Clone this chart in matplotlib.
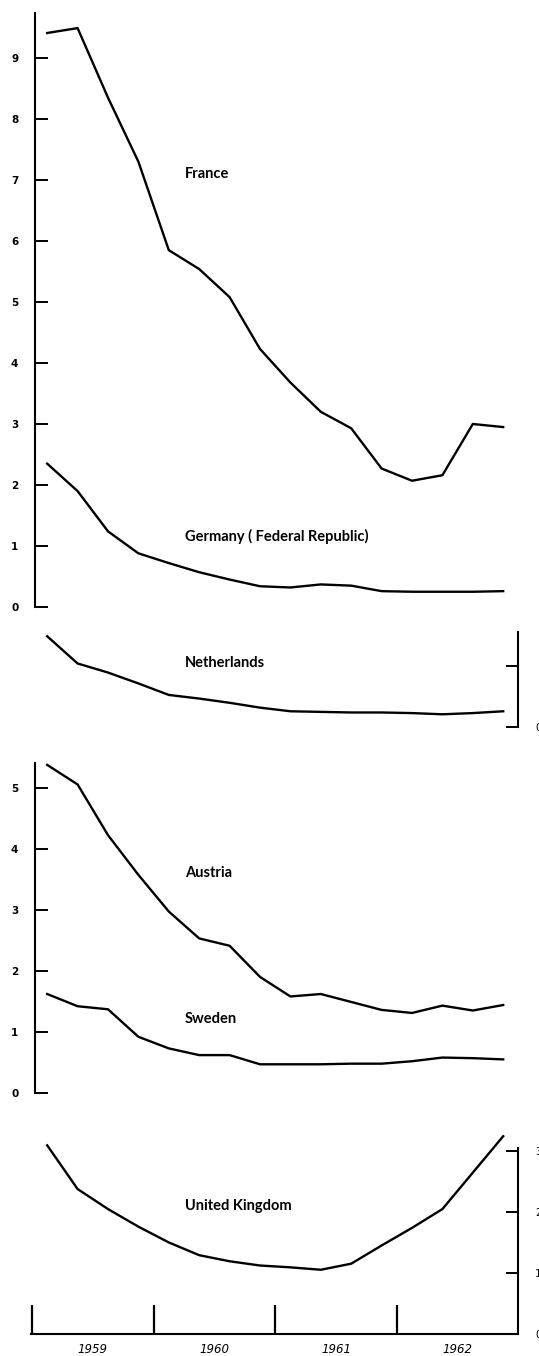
import numpy as np
import matplotlib
matplotlib.use('Agg')
import matplotlib.pyplot as plt

# quarterly observations, 1959 Q1 .. 1962 Q4 (plotted at the middle of each quarter)
years = [1959, 1960, 1961, 1962]
quarters = [1959.125, 1959.375, 1959.625, 1959.875,
            1960.125, 1960.375, 1960.625, 1960.875,
            1961.125, 1961.375, 1961.625, 1961.875,
            1962.125, 1962.375, 1962.625, 1962.875]

france = [9.41, 9.49, 8.35, 7.30, 5.85, 5.54, 5.08, 4.23,
          3.68, 3.20, 2.93, 2.27, 2.07, 2.16, 3.00, 2.95]
germany = [2.35, 1.90, 1.24, 0.88, 0.72, 0.57, 0.45, 0.34,
           0.32, 0.37, 0.35, 0.26, 0.25, 0.25, 0.25, 0.26]
netherlands = [1.50, 1.05, 0.90, 0.72, 0.53, 0.47, 0.40, 0.32,
               0.26, 0.25, 0.24, 0.24, 0.23, 0.21, 0.23, 0.26]
austria = [5.37, 5.05, 4.22, 3.57, 2.97, 2.53, 2.41, 1.90,
           1.58, 1.62, 1.49, 1.36, 1.31, 1.43, 1.35, 1.44]
sweden = [1.62, 1.42, 1.37, 0.92, 0.73, 0.62, 0.62, 0.47,
          0.47, 0.47, 0.48, 0.48, 0.52, 0.58, 0.57, 0.55]
uk = [3.10, 2.38, 2.05, 1.76, 1.50, 1.29, 1.19, 1.12,
      1.09, 1.05, 1.15, 1.45, 1.74, 2.05, 2.65, 3.25]

W, H = 539, 1356
PX_PER_YEAR = 121.6
X0 = 32  # pixel column of the start of 1959
XLIM = (1959 - X0 / PX_PER_YEAR, 1959 + (W - X0) / PX_PER_YEAR)

LW = 1.7
label_font = dict(family='Lato', weight='bold', size=10.5)
tick_font = dict(family='DejaVu Sans', weight='bold', size=7.5)

fig = plt.figure(figsize=(W / 100, H / 100), dpi=100)


def panel(zero_px, px_per_unit):
    # every panel covers the whole figure; only its y scale differs
    ax = fig.add_axes([0, 0, 1, 1])
    ax.set_facecolor('none')
    ax.set_xlim(*XLIM)
    ax.set_ylim((zero_px - H) / px_per_unit, zero_px / px_per_unit)
    for s in ax.spines.values():
        s.set_visible(False)
        s.set_linewidth(1.5)
    ax.set_xticks([])
    ax.set_yticks([])
    return ax


def left_axis(ax, top, ticks):
    ax.spines['left'].set_visible(True)
    ax.spines['left'].set_position(('data', 1959.025))
    ax.spines['left'].set_bounds(0, top)
    ax.set_yticks(ticks)
    ax.set_yticklabels([str(t) for t in ticks], fontdict=tick_font)
    ax.tick_params(axis='y', direction='in', length=9, width=1.4, pad=12)


def right_axis(ax, top, ticks, labels):
    ax.spines['right'].set_visible(True)
    ax.spines['right'].set_position(('data', 1963.0))
    ax.spines['right'].set_bounds(0, top)
    ax.yaxis.set_ticks_position('right')
    ax.set_yticks(ticks)
    ax.set_yticklabels(labels, fontdict=dict(family='DejaVu Sans', size=7.5))
    ax.tick_params(axis='y', direction='in', length=9, width=1.4, pad=12)


# France and Germany
ax1 = panel(607, 61)
left_axis(ax1, 9.74, list(range(10)))
ax1.plot(quarters, france, color='black', lw=LW)
ax1.plot(quarters, germany, color='black', lw=LW)
ax1.text(1960.258, 7.1, 'France', va='center', **label_font)
ax1.text(1960.258, 1.15, 'Germany ( Federal Republic)', va='center', **label_font)

# Netherlands
ax2 = panel(727, 60.5)
right_axis(ax2, 1.57, [0, 1], ['0', ''])
ax2.plot(quarters, netherlands, color='black', lw=LW)
ax2.text(1960.258, 1.06, 'Netherlands', va='center', **label_font)

# Austria and Sweden
ax3 = panel(1093, 61.1)
left_axis(ax3, 5.4, list(range(6)))
ax3.plot(quarters, austria, color='black', lw=LW)
ax3.plot(quarters, sweden, color='black', lw=LW)
ax3.text(1960.258, 3.6, 'Austria', va='center', **label_font)
ax3.text(1960.258, 1.21, 'Sweden', va='center', **label_font)

# United Kingdom with the time axis
ax4 = panel(1333.5, 60.7)
right_axis(ax4, 3.05, [0, 1, 2, 3], ['0', '1', '2', '3'])
ax4.plot(quarters, uk, color='black', lw=LW)
ax4.text(1960.258, 2.1, 'United Kingdom', va='center', **label_font)

ax4.spines['bottom'].set_visible(True)
ax4.spines['bottom'].set_position(('data', 0))
ax4.spines['bottom'].set_bounds(1959 - 1 / PX_PER_YEAR, 1963.0)
ax4.set_xticks(years)
ax4.set_xticklabels([])
ax4.set_xticks([y + 0.5 for y in years], minor=True)
ax4.set_xticklabels([str(y) for y in years], minor=True,
                    fontdict=dict(family='DejaVu Sans', style='italic', size=8.5))
ax4.tick_params(axis='x', which='major', direction='in', length=21, width=1.6)
ax4.tick_params(axis='x', which='minor', direction='in', length=0, pad=7)

fig.savefig('out.png', dpi=100)
